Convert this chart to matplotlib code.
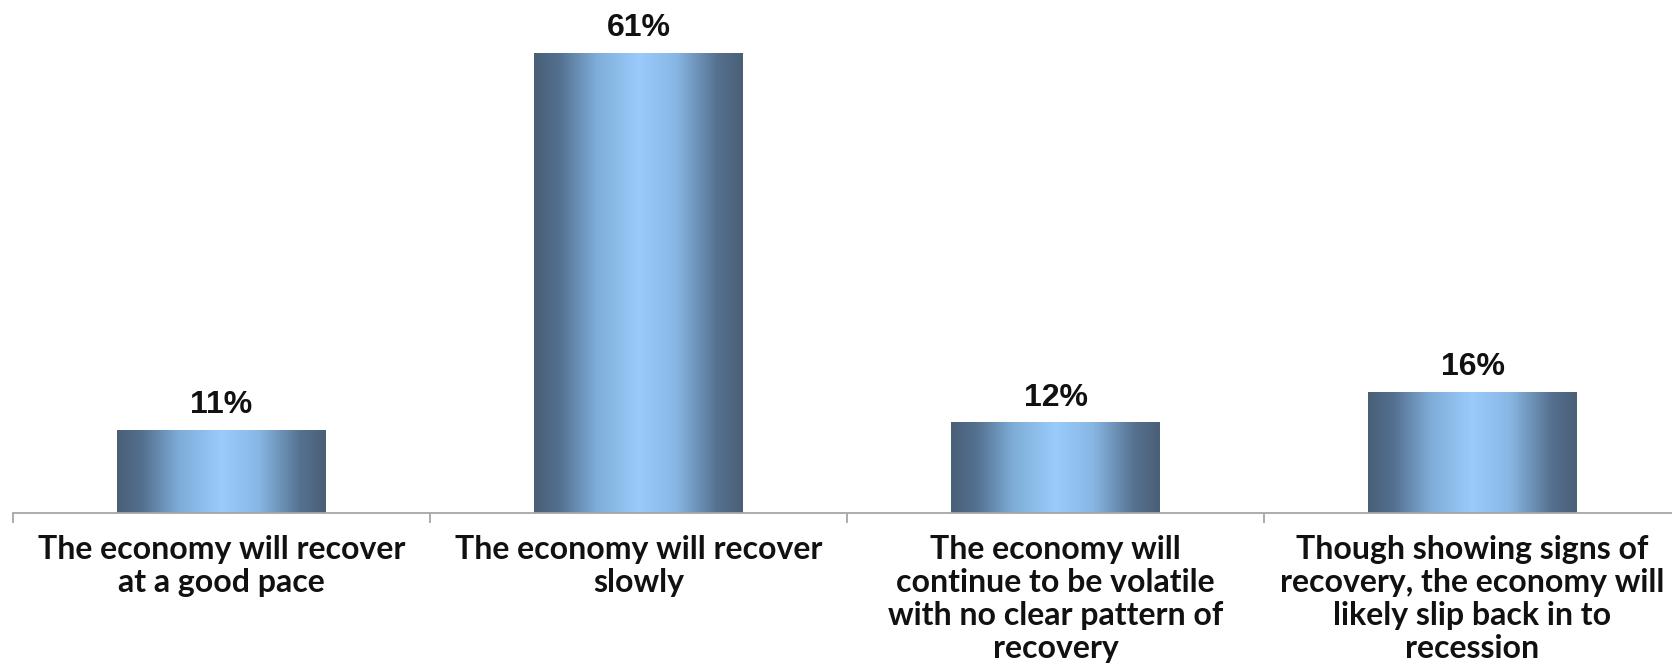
import matplotlib.pyplot as plt
from matplotlib.colors import LinearSegmentedColormap
import numpy as np

# survey answers and shares (%)
categories = [
    "The economy will recover\nat a good pace",
    "The economy will recover\nslowly",
    "The economy will\ncontinue to be volatile\nwith no clear pattern of\nrecovery",
    "Though showing signs of\nrecovery, the economy will\nlikely slip back in to\nrecession",
]
shares = [11, 61, 12, 16]

DPI = 100
W, H = 1672, 665

# dark edges, light centre: a cylinder-like shading across each bar
bar_cmap = LinearSegmentedColormap.from_list(
    "cyl",
    [(0.0, "#4a5f78"), (0.12, "#53708f"), (0.3, "#7fadd9"),
     (0.5, "#99cbfb"), (0.68, "#88b7e4"), (0.88, "#55718f"), (1.0, "#4a5f78")],
)

fig = plt.figure(figsize=(W / DPI, H / DPI), dpi=DPI)
ax = fig.add_axes([13 / W, 1 - 513 / H, 1668 / W, 513 / H])

x = np.arange(len(shares))
bars = ax.bar(x, shares, width=0.5, facecolor="none", edgecolor="none")

grad = np.linspace(0, 1, 256).reshape(1, -1)
for b in bars:
    x0, w, h = b.get_x(), b.get_width(), b.get_height()
    im = ax.imshow(grad, cmap=bar_cmap, aspect="auto",
                   extent=(x0, x0 + w, 0, h), zorder=2, interpolation="bicubic")
    im.set_clip_path(b)

for xi, v in zip(x, shares):
    ax.annotate(f"{v}%", (xi, v), xytext=(0, 12.2), textcoords="offset points",
                ha="center", va="baseline", fontsize=23, fontweight="bold",
                family="Liberation Sans", color="#111111")

ax.set_xlim(-0.5, len(shares) - 0.5)
ax.set_ylim(0, 68)

for side in ("top", "right", "left"):
    ax.spines[side].set_visible(False)
ax.spines["bottom"].set_color("#a6a6a6")
ax.spines["bottom"].set_linewidth(1.3)
ax.set_yticks([])

# labels sit at bar centres, tick marks at category boundaries
ax.set_xticks(x)
ax.set_xticklabels(categories, fontsize=23, fontweight="bold", family="Lato",
                   color="#111111", linespacing=1.16)
ax.tick_params(axis="x", which="major", length=0, pad=16)
ax.set_xticks(np.arange(len(shares)) - 0.5, minor=True)
ax.tick_params(axis="x", which="minor", length=7, width=1.3, color="#a6a6a6")

fig.savefig("out.png", dpi=DPI)
